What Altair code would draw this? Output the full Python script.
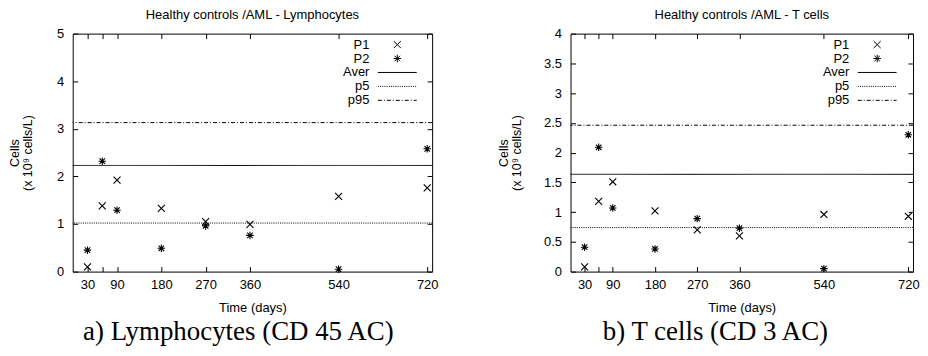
import altair as alt
import pandas as pd

# ---------------- data ----------------
days = [30, 60, 90, 180, 270, 360, 540, 720]
series_names = ["P1", "P2", "Aver", "p5", "p95"]
line_names = ["Aver", "p5", "p95"]

lym_p1 = [0.10, 1.38, 1.92, 1.33, 1.05, 0.99, 1.58, 1.76]
lym_p2 = [0.45, 2.32, 1.29, 0.49, 0.96, 0.76, 0.05, 2.58]
lym_lines = [2.23, 1.02, 3.13]

tc_p1 = [0.08, 1.18, 1.51, 1.02, 0.70, 0.60, 0.96, 0.93]
tc_p2 = [0.41, 2.09, 1.07, 0.38, 0.89, 0.73, 0.05, 2.30]
tc_lines = [1.635, 0.74, 2.46]

lym_yticks = [0, 1, 2, 3, 4, 5]
tc_yticks = [0, 0.5, 1, 1.5, 2, 2.5, 3, 3.5, 4]

# ---------------- styling helpers ----------------
SANS = "Liberation Sans"
SERIF = "Liberation Serif"
UNIT = 5.0  # px per path unit for symbol size 100
HALF = 3.9  # half-length of legend line sample, in units


def dash_path(pattern_px):
    """Build an SVG path of a dashed horizontal line for legend samples."""
    pat = [p / UNIT for p in pattern_px]
    x = -HALF
    parts = []
    i = 0
    while x < HALF - 1e-9:
        seg = pat[i % len(pat)]
        end = min(x + seg, HALF)
        if i % 2 == 0:
            parts.append(f"M{x:.2f},0L{end:.2f},0")
        x = end
        i += 1
    return "".join(parts)


X_PATH = "M-0.7,-0.7L0.7,0.7M-0.7,0.7L0.7,-0.7"
STAR_PATH = ("M-0.75,0L0.75,0M0,-0.75L0,0.75"
             "M-0.55,-0.55L0.55,0.55M-0.55,0.55L0.55,-0.55")
SOLID_PATH = f"M{-HALF},0L{HALF},0"
DOT_PATH = dash_path([1, 1.2])
DASHDOT_PATH = dash_path([4, 2, 1, 2])

shape_range = [X_PATH, STAR_PATH, SOLID_PATH, DOT_PATH, DASHDOT_PATH]


def panel(p1, p2, lines, ymax, yticks, width, top_title, caption,
          legend_x, y_title_pad, caption_dx):
    pts = pd.DataFrame({
        "day": days + days,
        "value": p1 + p2,
        "series": ["P1"] * len(days) + ["P2"] * len(days),
    })
    ref = pd.DataFrame({"series": line_names, "value": lines})

    xs = alt.Scale(domain=[0, 730], nice=False, zero=False)
    ys = alt.Scale(domain=[0, ymax], nice=False, zero=False)

    x_axis = alt.Axis(
        orient="bottom", values=days,
        labelExpr="datum.value == 60 ? '' : datum.label",
        offset=-5, tickSize=5, domain=False, grid=False,
        labelPadding=7, labelFontSize=13, title="Time (days)",
        titleFontSize=13, titlePadding=10, titleFontWeight="normal",
    )
    y_axis = alt.Axis(
        orient="left", values=yticks, format="~g", offset=-5, tickSize=5,
        domain=False, grid=False, labelPadding=9, labelFontSize=13,
        title=["Cells", "(x 10\u2079 cells/L)"], titleFontSize=12.5,
        titleLineHeight=13, titlePadding=y_title_pad,
        titleFontWeight="normal",
    )
    top_axis = alt.Axis(
        orient="top", values=days, offset=-5, tickSize=5, domain=False,
        grid=False, labels=False, title=None,
    )
    right_axis = alt.Axis(
        orient="right", values=yticks, offset=-5, tickSize=5, domain=False,
        grid=False, labels=False, title=None,
    )

    rules = alt.Chart(ref).mark_rule(color="black", strokeWidth=1).encode(
        y=alt.Y("value:Q", scale=ys, axis=None),
        strokeDash=alt.StrokeDash(
            "series:N",
            scale=alt.Scale(domain=line_names,
                            range=[[1, 0], [1, 1.2], [4, 2, 1, 2]]),
            legend=None,
        ),
    )

    points = alt.Chart(pts).mark_point(
        filled=False, color="black", size=100, strokeWidth=1.1, opacity=1
    ).encode(
        x=alt.X("day:Q", scale=xs, axis=x_axis),
        y=alt.Y("value:Q", scale=ys, axis=y_axis),
        shape=alt.Shape(
            "series:N",
            scale=alt.Scale(domain=series_names, range=shape_range),
            legend=alt.Legend(
                title=None, orient="none", legendX=legend_x, legendY=4.5,
                labelAlign="right", labelOffset={"expr": "-34.5"},
                symbolOffset=0,
                labelFont=SANS, labelFontSize=13, labelColor="black",
                rowPadding=0, symbolSize=100, symbolStrokeColor="black",
                symbolStrokeWidth=1, padding=0, labelLimit=200,
            ),
        ),
    )

    mirror = alt.Chart(pts).mark_point(opacity=0).encode(
        x=alt.X("day:Q", scale=xs, axis=top_axis),
        y=alt.Y("value:Q", scale=ys, axis=right_axis),
    )

    layer = alt.layer(rules, points, mirror).resolve_axis(
        x="independent", y="independent"
    ).properties(
        width=width, height=239,
        title=alt.Title(top_title, font=SANS, fontSize=13,
                        fontWeight="normal", color="black", anchor="middle",
                        frame="group", offset=5.5),
    )

    return alt.VConcatChart(vconcat=[layer]).properties(
        title=alt.Title(caption, orient="bottom", font=SERIF, fontSize=27,
                        fontWeight="normal", color="black", anchor="middle",
                        offset=4, dx=caption_dx),
    )


left = panel(lym_p1, lym_p2, lym_lines, 5, lym_yticks, 361,
             "Healthy controls /AML - Lymphocytes",
             "a) Lymphocytes (CD 45 AC)", 319.5, 22, 15)
right = panel(tc_p1, tc_p2, tc_lines, 4, tc_yticks, 344,
              "Healthy controls /AML - T cells",
              "b) T cells (CD 3 AC)", 301.5, 20, 7)

chart = alt.hconcat(left, right, spacing=58).resolve_scale(
    shape="independent", strokeDash="independent"
).resolve_legend(
    shape="independent"
).properties(
    padding=0
).configure_view(
    stroke="black", strokeWidth=1
).configure_axis(
    labelFont=SANS, titleFont=SANS, labelColor="black", titleColor="black",
    tickColor="black",
).configure_legend(
    labelFont=SANS
).configure_concat(spacing=0)

chart.save("out.html", embed_options={"renderer": "svg", "actions": False})
